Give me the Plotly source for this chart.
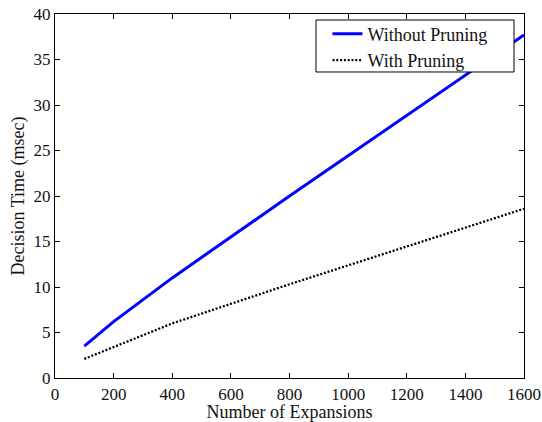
import plotly.graph_objects as go

expansions = [100, 200, 400, 800, 1600]
without_pruning = [3.5, 6.2, 11.0, 20.0, 37.7]
with_pruning = [2.1, 3.4, 6.0, 10.3, 18.6]
x_ticks = [0, 200, 400, 600, 800, 1000, 1200, 1400, 1600]
y_ticks = [0, 5, 10, 15, 20, 25, 30, 35, 40]

font_family = "'Liberation Serif', 'Times New Roman', serif"
fsize = 17
tcolor = "#111"

fig = go.Figure()
fig.add_trace(go.Scatter(x=expansions, y=without_pruning, mode="lines",
                         name="Without Pruning",
                         line=dict(color="#0000ff", width=3)))
fig.add_trace(go.Scatter(x=expansions, y=with_pruning, mode="lines",
                         name="With Pruning",
                         line=dict(color="black", width=2.3, dash="2px,1.8px")))

axis_common = dict(showgrid=False, zeroline=False, showline=True, linecolor="black",
                   linewidth=1.2, mirror="ticks", ticks="inside", ticklen=5,
                   tickcolor="black", automargin=False, ticklabeloverflow="allow",
                   tickfont=dict(family=font_family, size=fsize, color=tcolor))

fig.update_xaxes(range=[0, 1600], tickvals=x_ticks, ticktext=[str(v) for v in x_ticks],
                 title=dict(text="Number of Expansions", font=dict(family=font_family, size=18, color=tcolor), standoff=0),
                 **axis_common)
fig.update_yaxes(range=[0, 40], tickvals=y_ticks, ticktext=[str(v) for v in y_ticks],
                 title=dict(text="Decision Time (msec)", font=dict(family=font_family, size=18, color=tcolor), standoff=4),
                 **axis_common)

# legend frame (matplotlib-style, with generous padding), covering the lines
fig.add_shape(type="rect", xref="paper", yref="paper",
              x0=0.5565, x1=0.9787, y0=0.8407, y1=0.9835,
              line=dict(color="black", width=1), fillcolor="white", layer="above")

fig.update_layout(
    width=542, height=422,
    margin=dict(l=55, r=18, t=14, b=44),
    plot_bgcolor="white", paper_bgcolor="white",
    font=dict(family=font_family, size=fsize, color=tcolor),
    legend=dict(x=0.581, y=0.996, xanchor="left", yanchor="top",
                bgcolor="rgba(0,0,0,0)", borderwidth=0,
                font=dict(family=font_family, size=18, color=tcolor),
                tracegroupgap=0, itemwidth=30),
    showlegend=True,
)

fig.write_html("out.html", config={"displayModeBar": False},
               post_script="document.body.style.margin='0px';")
